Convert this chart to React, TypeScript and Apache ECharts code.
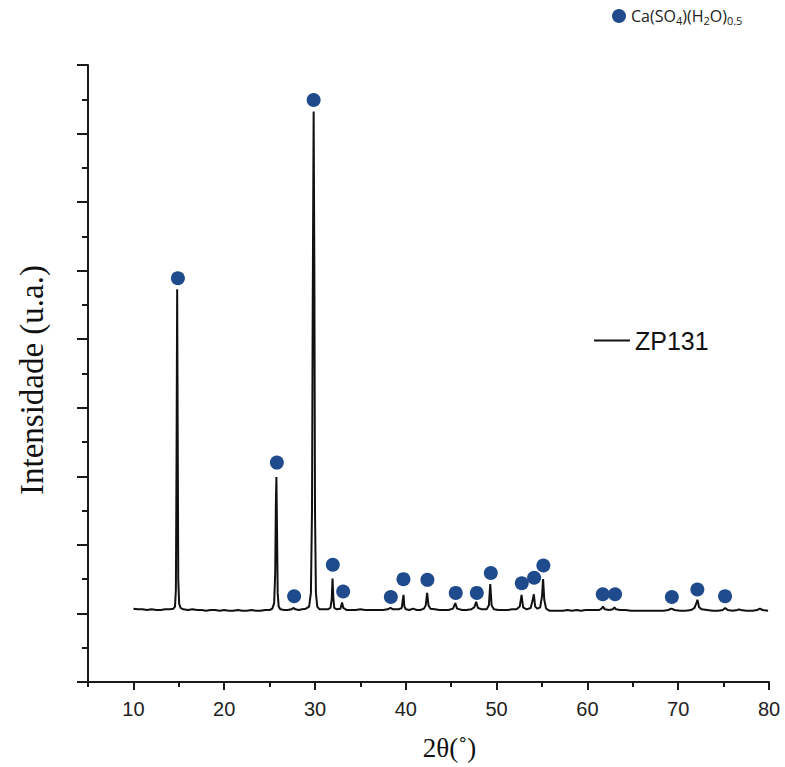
import React, { useEffect, useRef } from "react";
import * as echarts from "echarts";

// 2θ (degrees) / intensity (a.u.) pairs, split by region
const scan10to20: [number, number][] = [
  [10.0, 1.07], [10.5, 1.06], [11.0, 1.06], [11.5, 1.05], [12.0, 1.06], [12.5, 1.05],
  [13.0, 1.05], [13.5, 1.06], [14.0, 1.06], [14.4, 1.07], [14.58, 1.1], [14.68, 1.35],
  [14.75, 3.2], [14.82, 5.73], [14.88, 3.6], [14.94, 1.5], [15.04, 1.14], [15.2, 1.08],
  [15.5, 1.06], [16.0, 1.05], [16.5, 1.06], [17.0, 1.05], [17.5, 1.05], [18.0, 1.04],
  [18.5, 1.05], [19.0, 1.05], [19.5, 1.04], [20.0, 1.05],
];
const scan20to35: [number, number][] = [
  [20.5, 1.04], [21.0, 1.04], [21.5, 1.05], [22.0, 1.04], [22.5, 1.04], [23.0, 1.05],
  [23.5, 1.04], [24.0, 1.04], [24.5, 1.05], [25.0, 1.05], [25.3, 1.07], [25.5, 1.15],
  [25.62, 1.6], [25.69, 2.6], [25.75, 2.99], [25.81, 2.3], [25.89, 1.3], [26.0, 1.1],
  [26.2, 1.06], [26.6, 1.05], [27.0, 1.05], [27.4, 1.06], [27.65, 1.08], [27.85, 1.06],
  [28.2, 1.05], [28.6, 1.06], [29.0, 1.07], [29.35, 1.1], [29.55, 1.3], [29.67, 2.5],
  [29.75, 5.5], [29.85, 8.32], [29.93, 6.0], [30.0, 2.5], [30.1, 1.3], [30.25, 1.1],
  [30.5, 1.06], [31.0, 1.06], [31.4, 1.06], [31.7, 1.08], [31.84, 1.2], [31.93, 1.51],
  [32.01, 1.25], [32.12, 1.08], [32.4, 1.06], [32.8, 1.07], [32.98, 1.16], [33.12, 1.08],
  [33.5, 1.05], [34.0, 1.05], [34.5, 1.05], [35.0, 1.06],
];
const scan35to56: [number, number][] = [
  [35.5, 1.05], [36.0, 1.05], [36.5, 1.05], [37.0, 1.05], [37.5, 1.05], [38.0, 1.06],
  [38.3, 1.08], [38.6, 1.06], [39.2, 1.06], [39.55, 1.08], [39.67, 1.2], [39.75, 1.27],
  [39.84, 1.1], [40.0, 1.06], [40.4, 1.05], [40.8, 1.07], [41.2, 1.05], [41.6, 1.05],
  [42.0, 1.07], [42.2, 1.12], [42.35, 1.3], [42.5, 1.12], [42.7, 1.07], [43.2, 1.06],
  [43.7, 1.05], [44.2, 1.05], [44.7, 1.05], [45.2, 1.07], [45.45, 1.15], [45.65, 1.07],
  [46.2, 1.05], [46.7, 1.05], [47.2, 1.06], [47.55, 1.09], [47.75, 1.17], [47.95, 1.08],
  [48.4, 1.06], [48.9, 1.06], [49.15, 1.12], [49.3, 1.43], [49.45, 1.12], [49.7, 1.06],
  [50.2, 1.05], [50.7, 1.05], [51.2, 1.05], [51.7, 1.06], [52.2, 1.06], [52.55, 1.1],
  [52.75, 1.27], [52.92, 1.09], [53.3, 1.06], [53.75, 1.08], [53.95, 1.18], [54.1, 1.28],
  [54.25, 1.1], [54.5, 1.07], [54.8, 1.09], [55.0, 1.25], [55.12, 1.5], [55.25, 1.2],
  [55.45, 1.07], [55.8, 1.04],
];
const scan56to80: [number, number][] = [
  [56.3, 1.04], [56.8, 1.04], [57.3, 1.04], [57.8, 1.05], [58.3, 1.04], [58.8, 1.05],
  [59.3, 1.04], [59.8, 1.05], [60.3, 1.05], [60.8, 1.05], [61.3, 1.05], [61.55, 1.07],
  [61.72, 1.1], [61.9, 1.06], [62.4, 1.05], [62.8, 1.06], [62.98, 1.09], [63.15, 1.06],
  [63.6, 1.05], [64.2, 1.05], [64.8, 1.04], [65.4, 1.04], [66.0, 1.04], [66.6, 1.04],
  [67.2, 1.04], [67.8, 1.04], [68.4, 1.04], [68.9, 1.05], [69.25, 1.07], [69.6, 1.05],
  [70.2, 1.04], [70.8, 1.04], [71.4, 1.05], [71.8, 1.08], [72.02, 1.16], [72.12, 1.2],
  [72.3, 1.09], [72.6, 1.06], [73.2, 1.05], [73.8, 1.04], [74.4, 1.04], [74.9, 1.05],
  [75.18, 1.08], [75.45, 1.05], [76.0, 1.04], [76.5, 1.05], [76.7, 1.06], [76.9, 1.05],
  [77.5, 1.04], [78.2, 1.04], [78.7, 1.05], [79.0, 1.07], [79.3, 1.05], [79.9, 1.04],
];

// Ca(SO4)(H2O)0.5 phase markers (2θ, marker height)
const markerTheta = [
  14.9, 25.8, 27.7, 29.85, 31.96, 33.1, 38.35, 39.74, 42.38, 45.5,
  47.82, 49.36, 52.77, 54.13, 55.15, 61.69, 63.05, 69.3, 72.11, 75.16,
];
const markerHeight = [
  5.89, 3.2, 1.25, 8.49, 1.71, 1.32, 1.24, 1.5, 1.49, 1.3,
  1.3, 1.59, 1.44, 1.52, 1.7, 1.28, 1.28, 1.24, 1.35, 1.25,
];

const xMajorTicks = [10, 20, 30, 40, 50, 60, 70, 80];
const xMinorTicks = [5, 15, 25, 35, 45, 55, 65, 75];

const LINE_NAME = "ZP131";
const PHASE_NAME = "Ca(SO4)(H2O)0.5";

export default function App() {
  const ref = useRef<HTMLDivElement>(null);
  useEffect(() => {
    if (!ref.current) return;
    const chart = echarts.init(ref.current, undefined, { renderer: "svg" });
    const scan = [...scan10to20, ...scan20to35, ...scan35to56, ...scan56to80];
    const markers = markerTheta.map((t, i) => [t, markerHeight[i]]);
    const axisColor = "#1a1a1a";
    chart.setOption({
      animation: false,
      backgroundColor: "#ffffff",
      grid: { left: 88, right: 16, top: 65, bottom: 85, containLabel: false },
      xAxis: [
        {
          type: "value",
          min: 5,
          max: 80,
          interval: 5,
          position: "bottom",
          axisLine: { show: true, lineStyle: { color: axisColor, width: 2 } },
          axisTick: { show: true, customValues: xMajorTicks, length: 8, lineStyle: { color: axisColor, width: 2 } },
          axisLabel: {
            show: true,
            customValues: xMajorTicks,
            margin: 17,
            fontFamily: "Liberation Sans",
            fontSize: 20,
            color: "#222",
          },
          splitLine: { show: false },
          name: "2θ(˚)",
          nameLocation: "middle",
          nameGap: 52,
          nameTextStyle: {
            fontFamily: "Liberation Serif",
            fontSize: 27,
            color: "#111",
            padding: [0, 0, 0, 42],
          },
        },
        {
          type: "value",
          min: 5,
          max: 80,
          interval: 5,
          position: "bottom",
          axisLine: { show: false },
          axisTick: { show: true, customValues: xMinorTicks, length: 5, lineStyle: { color: axisColor, width: 2 } },
          axisLabel: { show: false },
          splitLine: { show: false },
        },
      ],
      yAxis: [
        {
          type: "value",
          min: 0,
          max: 9,
          interval: 1,
          position: "left",
          axisLine: { show: true, lineStyle: { color: axisColor, width: 2 } },
          axisTick: { show: true, length: 11, lineStyle: { color: axisColor, width: 2 } },
          axisLabel: { show: false },
          splitLine: { show: false },
          name: "Intensidade (u.a.)",
          nameLocation: "middle",
          nameRotate: 90,
          nameGap: 40,
          nameTextStyle: {
            fontFamily: "Liberation Serif",
            fontSize: 33,
            color: "#111",
            padding: [0, 13, 0, 0],
          },
        },
        {
          type: "value",
          min: 0,
          max: 9,
          interval: 0.5,
          position: "left",
          offset: 0,
          axisLine: { show: false },
          axisTick: { show: true, length: 6, lineStyle: { color: axisColor, width: 2 } },
          axisLabel: { show: false },
          splitLine: { show: false },
        },
      ],
      legend: [
        {
          data: [{ name: LINE_NAME, icon: "rect" }],
          left: 589,
          top: 323,
          itemWidth: 36,
          itemHeight: 2,
          itemGap: 6,
          textStyle: { fontFamily: "Liberation Sans", fontSize: 25, color: "#111" },
        },
        {
          data: [{ name: PHASE_NAME, icon: "circle" }],
          left: 607,
          top: 3,
          itemWidth: 14,
          itemHeight: 14,
          itemGap: 4,
          formatter: () => "{a|Ca(SO}{s|4}{a|)(H}{s|2}{a|O)}{s|0.5}",
          textStyle: {
            color: "#222",
            rich: {
              a: { fontFamily: "Open Sans", fontSize: 16, lineHeight: 20, color: "#222", verticalAlign: "middle" },
              s: { fontFamily: "Open Sans", fontSize: 11, lineHeight: 10, color: "#222", verticalAlign: "bottom" },
            },
          },
        },
      ],
      series: [
        {
          name: LINE_NAME,
          type: "line",
          xAxisIndex: 0,
          yAxisIndex: 0,
          data: scan,
          symbol: "none",
          lineStyle: { color: "#111", width: 2 },
          itemStyle: { color: "#111" },
          z: 2,
        },
        {
          name: PHASE_NAME,
          type: "scatter",
          xAxisIndex: 0,
          yAxisIndex: 0,
          data: markers,
          symbol: "circle",
          symbolSize: 14,
          itemStyle: { color: "#1f4a8c", opacity: 1 },
          z: 3,
        },
      ],
    });
    return () => chart.dispose();
  }, []);
  return <div ref={ref} style={{ width: 785, height: 767, position: "absolute", left: 0, top: 0 }} />;
}
